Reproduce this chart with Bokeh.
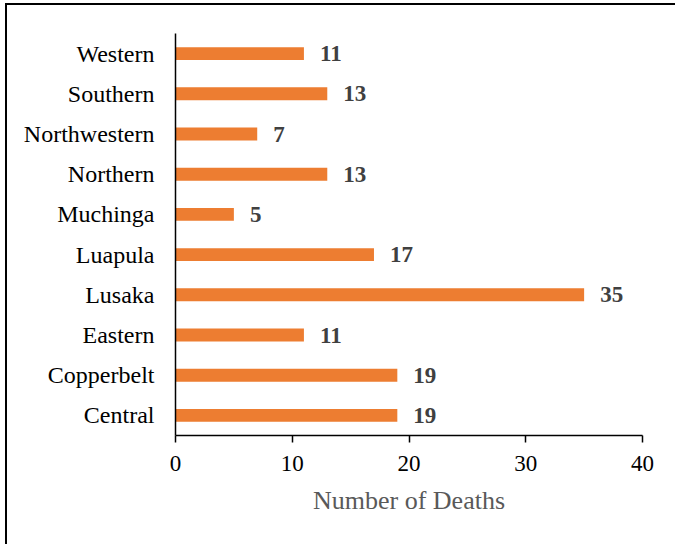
from bokeh.plotting import figure
from bokeh.models import ColumnDataSource, Range1d, FactorRange, FixedTicker, LabelSet
from bokeh.embed import file_html
from bokeh.resources import INLINE

# Deaths by province (listed bottom to top)
provinces = ["Central", "Copperbelt", "Eastern", "Lusaka", "Luapula",
             "Muchinga", "Northern", "Northwestern", "Southern", "Western"]
deaths = [19, 19, 11, 35, 17, 5, 13, 7, 13, 11]
x_ticks = [0, 10, 20, 30, 40]

src = ColumnDataSource(dict(province=provinces, deaths=deaths,
                            label=[str(d) for d in deaths]))

FONT = "Liberation Serif"

p = figure(width=670, height=541, output_backend="svg", toolbar_location=None,
           y_range=FactorRange(*provinces, range_padding=0),
           x_range=Range1d(0, 40),
           min_border_left=168, min_border_right=35,
           min_border_top=28, min_border_bottom=111)
p.margin = (3, 0, 0, 5)
p.styles = {"border-top": "2px solid #000", "border-left": "2px solid #000"}
p.outline_line_color = None
p.background_fill_color = "white"
p.border_fill_color = "white"
p.grid.visible = False

p.hbar(y="province", right="deaths", height=0.32, source=src,
       color="#ED7D31", line_color=None)

labels = LabelSet(x="deaths", y="province", text="label", source=src,
                  x_offset=16, text_baseline="middle",
                  text_font=FONT, text_font_size="23px",
                  text_font_style="bold", text_color="#404040")
p.add_layout(labels)

xa = p.xaxis[0]
xa.ticker = FixedTicker(ticks=x_ticks)
xa.axis_label = "Number of Deaths"
xa.axis_label_text_font = FONT
xa.axis_label_text_font_size = "26px"
xa.axis_label_text_font_style = "normal"
xa.axis_label_text_color = "#595959"
xa.axis_label_standoff = 12
xa.major_label_text_font = FONT
xa.major_label_text_font_size = "23px"
xa.major_label_text_color = "#000000"
xa.major_label_standoff = 13
xa.axis_line_color = "#000000"
xa.axis_line_width = 1.5
xa.major_tick_line_color = "#000000"
xa.major_tick_line_width = 1.5
xa.major_tick_in = 0
xa.major_tick_out = 7
xa.minor_tick_line_color = None

ya = p.yaxis[0]
ya.major_label_text_font = FONT
ya.major_label_text_font_size = "24px"
ya.major_label_text_color = "#000000"
ya.major_label_standoff = 15
ya.axis_line_color = "#000000"
ya.axis_line_width = 1.5
ya.major_tick_line_color = None
ya.minor_tick_line_color = None

open("out.html", "w").write(file_html(p, INLINE))
